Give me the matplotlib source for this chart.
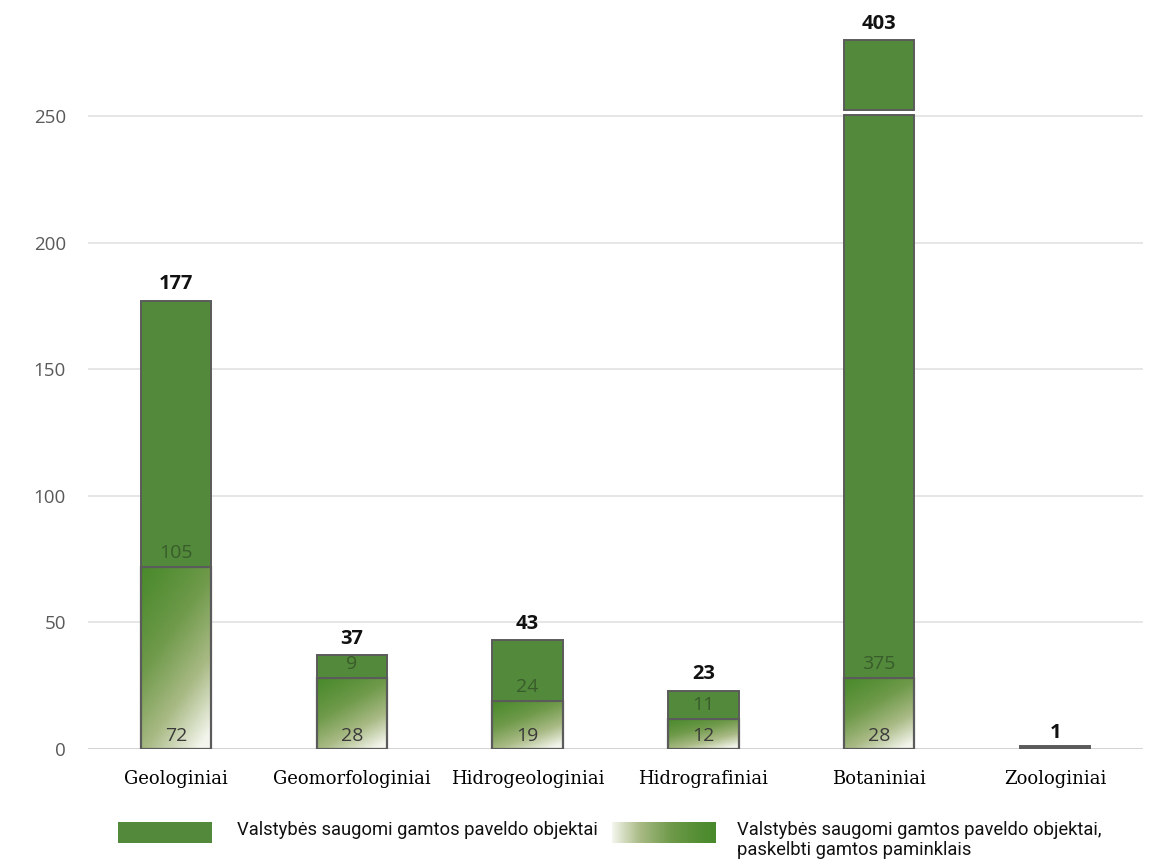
import numpy as np
import matplotlib.pyplot as plt
from matplotlib.colors import LinearSegmentedColormap
from matplotlib.patches import Rectangle

categories = ["Geologiniai", "Geomorfologiniai", "Hidrogeologiniai",
              "Hidrografiniai", "Botaniniai", "Zoologiniai"]
monuments = [72, 28, 19, 12, 28, 0]          # paskelbti gamtos paminklais
other = [105, 9, 24, 11, 375, 1]              # likę saugomi objektai
totals = [a + b for a, b in zip(monuments, other)]
yticks = [0, 50, 100, 150, 200, 250]

# Botaniniai stulpelis per aukštas - kertamas
cap = 280
gap = (250.2, 252.4)

green = "#52893a"
edge = "#5b5b5b"
grad = LinearSegmentedColormap.from_list(
    "g", ["#4a8a2c", "#6f9a4a", "#a9ba85", "#f3f5ec"])

fig = plt.figure(figsize=(11.53, 8.61), dpi=100)
ax = fig.add_axes([88 / 1153, 1 - 749 / 861, 1055 / 1153, (749 - 14.7) / 861])

w = 0.40
x = np.arange(len(categories))

# diagonali gradiento tekstūra
gx, gy = np.meshgrid(np.linspace(0, 1, 60), np.linspace(0, 1, 200))
tex = np.clip((0.55 * gx + gy) / 1.45, 0, 1) ** 1.2

for i in x:
    lo, up, tot = monuments[i], other[i], totals[i]
    x0 = i - w / 2
    if lo > 0:
        ax.imshow(tex, cmap=grad, extent=(x0, x0 + w, 0, lo), origin="upper",
                  aspect="auto", zorder=2, interpolation="bilinear")
        ax.add_patch(Rectangle((x0, 0), w, lo, fill=False, ec=edge, lw=1.6, zorder=3))
    top = min(tot, cap)
    if tot > cap:
        ax.add_patch(Rectangle((x0, lo), w, gap[0] - lo, fc=green, ec=edge, lw=1.4, zorder=3))
        ax.add_patch(Rectangle((x0, gap[1]), w, top - gap[1], fc=green, ec=edge, lw=1.4, zorder=3))
    else:
        ax.add_patch(Rectangle((x0, lo), w, top - lo, fc=green if lo > 0 else edge,
                               ec=edge, lw=1.4, zorder=3))
    # sumos virš stulpelių
    ax.text(i, top + (1.5 if tot < 5 else 2.5), str(tot), ha="center", va="bottom",
            fontsize=14.5, fontweight="bold", color="#111111", family="Open Sans",
            zorder=4)
    if lo > 0:
        ax.text(i, 1.5, str(lo), ha="center", va="bottom", fontsize=14,
                color="#3a3a3a", family="Open Sans", zorder=4)
        ax.text(i, lo + 2.0, str(up), ha="center", va="bottom", fontsize=14,
                color="#2f4a25", alpha=0.7, family="Open Sans", zorder=4)

ax.set_xlim(-0.5, len(categories) - 0.5)
ax.set_ylim(0, 290)
ax.set_yticks(yticks)
ax.set_yticklabels([str(t) for t in yticks], fontsize=13.5, color="#595959",
                   family="Open Sans")
ax.set_xticks(x)
ax.set_xticklabels(categories, fontsize=13, family="DejaVu Serif",
                   color="#000000")
ax.tick_params(axis="both", length=0)
ax.tick_params(axis="y", pad=16)
ax.tick_params(axis="x", pad=15)
ax.grid(axis="y", color="#e1e1e1", lw=1.2, zorder=0)
ax.set_axisbelow(True)
for s in ax.spines.values():
    s.set_visible(False)
ax.axhline(0, color="#d4d4d4", lw=1.4, zorder=1)

# legenda apačioje
lax = fig.add_axes([0, 0, 1, 1])
lax.set_xlim(0, 1153)
lax.set_ylim(861, 0)
lax.axis("off")
lax.add_patch(Rectangle((118, 822), 94, 21, fc=green, ec="none"))
hgrad = np.linspace(1, 0, 100)[None, :] ** 1.3
lax.imshow(hgrad, cmap=grad, extent=(612, 716, 843, 822), aspect="auto",
           interpolation="bilinear")
lax.set_xlim(0, 1153)
lax.set_ylim(861, 0)
lax.text(237, 830, "Valstybės saugomi gamtos paveldo objektai", fontsize=13.2,
         family="Roboto", va="center", color="#111111")
lax.text(737, 830, "Valstybės saugomi gamtos paveldo objektai,", fontsize=13.2,
         family="Roboto", va="center", color="#111111")
lax.text(737, 850, "paskelbti gamtos paminklais", fontsize=13.2,
         family="Roboto", va="center", color="#111111")

fig.savefig("out.png", dpi=100)
